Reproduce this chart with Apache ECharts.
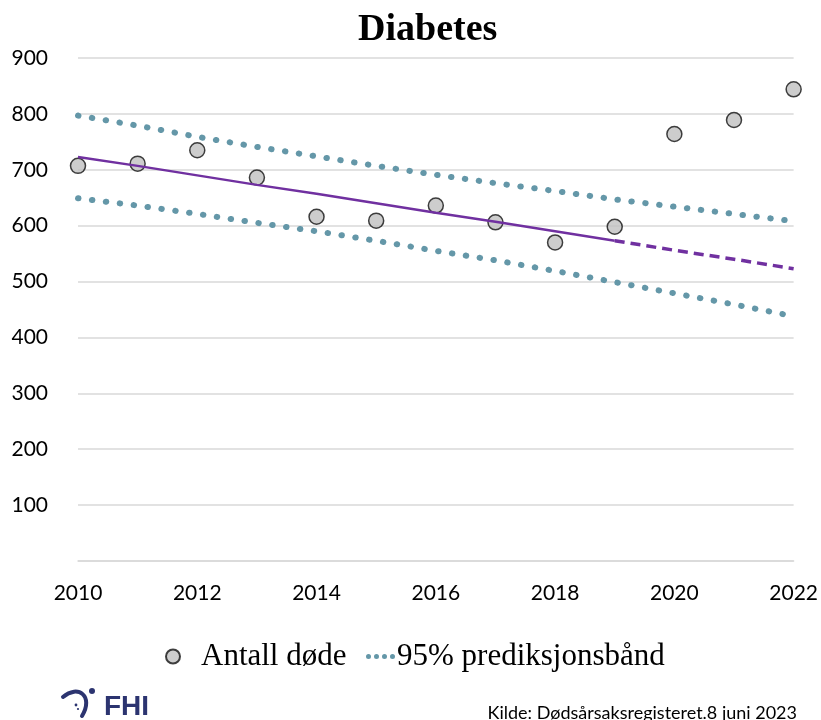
<!DOCTYPE html>
<html>
<head>
<meta charset="utf-8">
<title>Diabetes</title>
<script src="https://cdn.jsdelivr.net/npm/echarts@6/dist/echarts.min.js"></script>
<style>
  html, body { margin: 0; padding: 0; background: #fff; }
  #chart { width: 821px; height: 720px; }
</style>
</head>
<body>
<div id="chart"></div>
<script>
// Registered deaths from diabetes per year
const years = [2010, 2011, 2012, 2013, 2014, 2015, 2016, 2017, 2018, 2019, 2020, 2021, 2022];
const deaths = [707, 711, 735, 686, 616, 609, 636, 606, 570, 598, 764, 789, 844];

// Linear trend fitted on 2010-2019 and extended to 2022
const trend = [723, 707, 690, 673, 657, 640, 623, 607, 590, 573, 556, 540, 523];
// 95 % prediction band around the trend
const bandUpper = [797, 779, 759, 741, 724, 707, 691, 676, 662, 647, 634, 621, 608];
const bandLower = [649, 636, 621, 605, 590, 573, 555, 538, 519, 499, 479, 459, 438];

const fitEndYear = 2019;
const yTicks = [0, 100, 200, 300, 400, 500, 600, 700, 800, 900];

const pairs = (ys, from, to) => years
  .map((x, i) => [x, ys[i]])
  .filter(p => p[0] >= from && p[0] <= to);

const purple = '#7030a0';
const teal = '#6497a8';
const gridGray = '#d9d9d9';
const navy = '#2c3470';
const sans = 'Lato, "Open Sans", sans-serif';
const serif = '"Liberation Serif", "DejaVu Serif", serif';

// four round dots in a row, used as the legend icon of the band
const dotRow = 'path://' + [0, 8, 16, 24]
  .map(x => `M${x} 2.5a2.5 2.5 0 1 0 5 0a2.5 2.5 0 1 0 -5 0Z`).join(' ');

const chart = echarts.init(document.getElementById('chart'), null, { renderer: 'canvas' });

const bandLine = { color: teal, width: 6, type: [0.5, 13.5], cap: 'round' };

chart.setOption({
  animation: false,
  backgroundColor: '#fff',
  title: {
    text: 'Diabetes',
    left: 353,
    top: 6,
    textStyle: { fontFamily: serif, fontWeight: 'bold', fontSize: 38, color: '#000' }
  },
  grid: { left: 78, right: 24, top: 58, bottom: 159, containLabel: false },
  xAxis: {
    type: 'value',
    min: 2010,
    max: 2022,
    interval: 2,
    axisLine: { show: true, lineStyle: { color: gridGray, width: 1.5 } },
    axisTick: { show: false },
    splitLine: { show: false },
    axisLabel: { margin: 22, fontFamily: sans, fontSize: 21, color: '#000', formatter: v => String(v) }
  },
  yAxis: {
    type: 'value',
    min: yTicks[0],
    max: yTicks[yTicks.length - 1],
    interval: 100,
    axisLine: { show: false },
    axisTick: { show: false },
    splitLine: { show: true, lineStyle: { color: gridGray, width: 1.5 } },
    axisLabel: { margin: 30, fontFamily: sans, fontSize: 21, color: '#000', formatter: v => (v === 0 ? '' : String(v)) }
  },
  legend: [
    {
      data: [{ name: 'Antall døde', icon: 'circle' }],
      left: 160,
      top: 636,
      itemWidth: 14,
      itemHeight: 14,
      itemGap: 0,
      textStyle: { fontFamily: serif, fontSize: 31, color: '#000', padding: [0, 0, 0, 16] },
      selectedMode: false
    },
    {
      data: [{ name: '95% prediksjonsbånd', icon: dotRow, itemStyle: { color: teal, borderWidth: 0 } }],
      left: 361,
      top: 636,
      itemWidth: 29,
      itemHeight: 5,
      itemGap: 0,
      textStyle: { fontFamily: serif, fontSize: 31, color: '#000', padding: [0, 0, 0, -3] },
      selectedMode: false
    }
  ],
  series: [
    {
      name: '95% prediksjonsbånd',
      type: 'line',
      data: pairs(bandUpper, 2010, 2022),
      showSymbol: false,
      symbol: 'none',
      itemStyle: { color: teal },
      lineStyle: bandLine,
      z: 2
    },
    {
      name: '95% prediksjonsbånd',
      type: 'line',
      data: pairs(bandLower, 2010, 2022),
      showSymbol: false,
      symbol: 'none',
      itemStyle: { color: teal },
      lineStyle: bandLine,
      z: 2
    },
    {
      name: 'Antall døde',
      type: 'scatter',
      data: pairs(deaths, 2010, 2022),
      symbol: 'circle',
      symbolSize: 15,
      itemStyle: { color: '#c0c0c0', borderColor: '#111', borderWidth: 1.5 },
      z: 3
    },
    {
      name: 'Trend',
      type: 'line',
      data: pairs(trend, 2010, fitEndYear),
      showSymbol: false,
      symbol: 'none',
      lineStyle: { color: purple, width: 2.5 },
      z: 4
    },
    {
      name: 'Trend, framskrevet',
      type: 'line',
      data: pairs(trend, fitEndYear, 2022),
      showSymbol: false,
      symbol: 'none',
      lineStyle: { color: purple, width: 3.5, type: [10, 6] },
      z: 4
    }
  ],
  graphic: [
    {
      type: 'text',
      x: 797,
      y: 704,
      style: { text: 'Kilde: Dødsårsaksregisteret.8 juni 2023', fontFamily: sans, fontSize: 18, fill: '#000', align: 'right' }
    },
    // FHI logo: swoosh, head and small dots, then the letters
    {
      type: 'bezierCurve',
      shape: { x1: 63, y1: 697, x2: 82, y2: 716, cpx1: 78, cpy1: 684, cpx2: 94, cpy2: 696 },
      style: { stroke: navy, lineWidth: 4, lineCap: 'round', fill: null }
    },
    { type: 'circle', shape: { cx: 92, cy: 691, r: 3 }, style: { fill: navy } },
    { type: 'circle', shape: { cx: 76, cy: 705, r: 1.4 }, style: { fill: navy } },
    { type: 'circle', shape: { cx: 78, cy: 709, r: 1.1 }, style: { fill: navy } },
    {
      type: 'text',
      x: 104,
      y: 693,
      style: { text: 'FHI', fontFamily: '"Liberation Sans", Arial, sans-serif', fontWeight: 'bold', fontSize: 28, fill: navy }
    }
  ]
});
</script>
</body>
</html>
